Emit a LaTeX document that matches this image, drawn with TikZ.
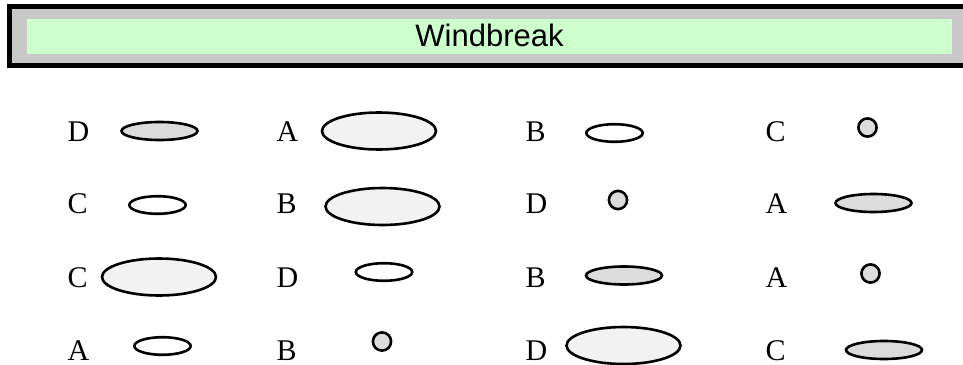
\documentclass[tikz,border=0pt]{standalone}
\usepackage{fontspec}
\setmainfont{Liberation Serif}
\newfontfamily\arialf{Liberation Sans}
\usetikzlibrary{shapes.geometric}
\definecolor{shdark}{HTML}{DCDCDC}
\definecolor{shlight}{HTML}{F2F2F2}
\definecolor{bgray}{HTML}{C8C8C8}
\definecolor{bgreen}{HTML}{CCFFCC}
\begin{document}
\begin{tikzpicture}[x=1pt,y=-1pt,
  shp/.style={ellipse, draw=black, line width=2.6pt, inner sep=0pt},
  dk/.style={shp, fill=shdark},
  lt/.style={shp, fill=shlight},
  wh/.style={shp, fill=white},
  big/.style={minimum width=114pt, minimum height=37pt},
  mid/.style={minimum width=76pt, minimum height=18pt},
  sml/.style={minimum width=56.4pt, minimum height=17.6pt},
  dot/.style={minimum width=18.2pt, minimum height=18.2pt},
  lbl/.style={anchor=base west, inner sep=0pt, text depth=0pt, font=\fontsize{30}{31}\selectfont}]
\useasboundingbox (0,0) rectangle (963,364);
\clip (0,0) rectangle (963,364);
\fill[white] (0,0) rectangle (963,364);
% banner
\fill[black] (7,4) rectangle (990,68.3);
\fill[bgray] (12,9) rectangle (985,63);
\node[fill=bgreen, minimum width=925pt, minimum height=35pt, inner sep=0pt, anchor=north west] (banner) at (27,19) {};
\node[font=\arialf\fontsize{31}{32}\selectfont, anchor=base, inner sep=0pt] (title) at (489.5,46.7) {Windbreak};
% row 1
\node[lbl] (l11) at (67.5,141) {D};
\node[dk,mid] (s11) at (159.5,131) {};
\node[lbl] (l12) at (276.5,141) {A};
\node[lt,big] (s12) at (379,131) {};
\node[lbl] (l13) at (525.5,141) {B};
\node[wh,sml] (s13) at (614.5,133) {};
\node[lbl] (l14) at (765.5,141) {C};
\node[dk,dot] (s14) at (867.5,127.5) {};
% row 2
\node[lbl] (l21) at (67.5,213) {C};
\node[wh,sml] (s21) at (157.5,205) {};
\node[lbl] (l22) at (276.5,213) {B};
\node[lt,big] (s22) at (382.5,206.5) {};
\node[lbl] (l23) at (525.5,213) {D};
\node[dk,dot] (s23) at (618,200) {};
\node[lbl] (l24) at (765.5,213) {A};
\node[dk,mid] (s24) at (873.5,203) {};
% row 3
\node[lbl] (l31) at (67.5,287) {C};
\node[lt,big] (s31) at (159,277) {};
\node[lbl] (l32) at (276.5,287) {D};
\node[wh,sml] (s32) at (384,272) {};
\node[lbl] (l33) at (525.5,287) {B};
\node[dk,mid] (s33) at (624,275.5) {};
\node[lbl] (l34) at (765.5,287) {A};
\node[dk,dot] (s34) at (870.5,273.5) {};
% row 4
\node[lbl] (l41) at (67.5,360) {A};
\node[wh,sml] (s41) at (162.5,346) {};
\node[lbl] (l42) at (276.5,360) {B};
\node[dk,dot] (s42) at (382,341.5) {};
\node[lbl] (l43) at (525.5,360) {D};
\node[lt,big] (s43) at (623.5,345.5) {};
\node[lbl] (l44) at (765.5,360) {C};
\node[dk,mid] (s44) at (884,350) {};
\end{tikzpicture}
\end{document}
